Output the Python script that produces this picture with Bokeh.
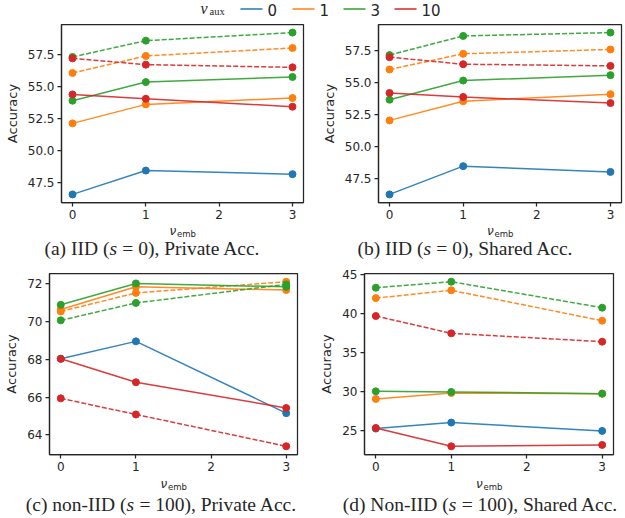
from bokeh.plotting import figure
from bokeh.layouts import column, row
from bokeh.models import FixedTicker, Label, Range1d, NumeralTickFormatter
from bokeh.embed import file_html
from bokeh.resources import INLINE

# ---------------- data ----------------
nu_emb = [0, 1, 3]
x_ticks = [0, 1, 2, 3]
aux_levels = ["0", "1", "3", "10"]
aux_colors = {"0": "#1f77b4", "1": "#ff7f0e", "3": "#2ca02c", "10": "#d62728"}

# (a) IID, private accuracy
a_solid = {"0": [46.60, 48.46, 48.18], "1": [52.14, 53.62, 54.12],
           "3": [53.91, 55.36, 55.76], "10": [54.40, 54.06, 53.44]}
a_dashed = {"1": [56.07, 57.40, 58.02], "3": [57.32, 58.59, 59.22],
            "10": [57.21, 56.72, 56.51]}
# (b) IID, shared accuracy
b_solid = {"0": [46.27, 48.47, 48.02], "1": [52.03, 53.52, 54.07],
           "3": [53.64, 55.13, 55.55], "10": [54.16, 53.85, 53.38]}
b_dashed = {"1": [55.99, 57.21, 57.55], "3": [57.11, 58.60, 58.86],
            "10": [56.95, 56.40, 56.27]}
# (c) non-IID, private accuracy
c_solid = {"0": [68.02, 68.94, 65.15], "1": [70.62, 71.82, 71.65],
           "3": [70.87, 72.00, 71.82], "10": [68.02, 66.78, 65.42]}
c_dashed = {"1": [70.52, 71.50, 72.09], "3": [70.05, 70.97, 71.95],
            "10": [65.93, 65.08, 63.40]}
# (d) non-IID, shared accuracy
d_solid = {"0": [25.26, 26.03, 24.96], "1": [29.06, 29.83, 29.74],
           "3": [30.04, 29.96, 29.74], "10": [25.34, 22.99, 23.16]}
d_dashed = {"1": [42.00, 43.00, 39.10], "3": [43.33, 44.10, 40.77],
            "10": [39.70, 37.48, 36.41]}

yticks_a = [47.5, 50.0, 52.5, 55.0, 57.5]
yticks_b = [47.5, 50.0, 52.5, 55.0, 57.5]
yticks_c = [64, 66, 68, 70, 72]
yticks_d = [25, 30, 35, 40, 45]

cap_a = ("(a) IID (", "s", "= 0), Private Acc.")
cap_b = ("(b) IID (", "s", "= 0), Shared Acc.")
cap_c = ("(c) non-IID (", "s", "= 100), Private Acc.")
cap_d = ("(d) Non-IID (", "s", "= 100), Shared Acc.")

# ---------------- styling helpers ----------------
TXT = "#262626"
TIMES = {'(': 333, ')': 333, ' ': 250, 'a': 444, 'b': 500, 'c': 444, 'd': 500, 'e': 444,
         'h': 500, 'i': 278, 'n': 500, 'o': 500, 'r': 333, 's': 389, 't': 278, 'v': 500,
         'A': 722, 'D': 722, 'I': 333, 'N': 722, 'P': 556, 'S': 556, '-': 333, '=': 564,
         '0': 500, '1': 500, ',': 250, '.': 250}
CAP_SIZE = 19.5
LW, RW = 310, 314
TOTAL_W = LW + RW


def tw(s, size):
    return sum(TIMES.get(ch, 500) for ch in s) / 1000.0 * size


def lab(p, x, y, text, font, size, style="normal", align="left"):
    p.add_layout(Label(x=x, y=y, x_units="screen", y_units="screen", text=text,
                       text_font=font, text_font_size=f"{size}px", text_font_style=style,
                       text_color=TXT, text_align=align, text_baseline="middle"))


def blank(width, height):
    f = figure(width=width, height=height, x_range=Range1d(0, width),
               y_range=Range1d(0, height), x_axis_type=None, y_axis_type=None,
               output_backend="svg", toolbar_location=None, min_border=0,
               outline_line_color=None)
    f.xgrid.grid_line_color = None
    f.ygrid.grid_line_color = None
    return f


def make_panel(solid, dashed, yticks, yfmt, width, height, bl, br, bt, bb):
    vals = [v for d in (solid, dashed) for arr in d.values() for v in arr]
    lo, hi = min(vals), max(vals)
    pad = 0.05 * (hi - lo)
    p = figure(width=width, height=height, x_range=Range1d(-0.15, 3.15),
               y_range=Range1d(lo - pad, hi + pad), output_backend="svg",
               toolbar_location=None, min_border_left=bl, min_border_right=br,
               min_border_top=bt, min_border_bottom=bb)
    p.xgrid.grid_line_color = None
    p.ygrid.grid_line_color = None
    p.outline_line_color = TXT
    p.outline_line_width = 1.25
    p.outline_line_alpha = 1.0
    for ax in (p.xaxis[0], p.yaxis[0]):
        ax.axis_line_color = TXT
        ax.axis_line_width = 1.25
        ax.major_tick_line_color = TXT
        ax.major_tick_line_width = 1.25
        ax.major_tick_out = 4
        ax.major_tick_in = 0
        ax.minor_tick_line_color = None
        ax.major_label_text_font = "DejaVu Sans"
        ax.major_label_text_font_size = "12px"
        ax.major_label_text_color = TXT
        ax.major_label_standoff = 3
    p.xaxis.ticker = FixedTicker(ticks=x_ticks)
    p.yaxis.ticker = FixedTicker(ticks=yticks)
    p.yaxis.formatter = NumeralTickFormatter(format=yfmt)
    p.yaxis.axis_label = "Accuracy"
    p.yaxis.axis_label_text_font = "DejaVu Sans"
    p.yaxis.axis_label_text_font_size = "13px"
    p.yaxis.axis_label_text_font_style = "normal"
    p.yaxis.axis_label_text_color = TXT
    p.yaxis.axis_label_standoff = 5

    for lv in aux_levels:
        col = aux_colors[lv]
        if lv in solid:
            p.line(nu_emb, solid[lv], line_color=col, line_width=1.5, line_alpha=0.9)
            p.scatter(nu_emb, solid[lv], size=7, marker="circle", fill_color=col,
                      line_color=col)
        if lv in dashed:
            p.line(nu_emb, dashed[lv], line_color=col, line_width=1.5, line_alpha=0.9,
                   line_dash="5 2")
            p.scatter(nu_emb, dashed[lv], size=7, marker="circle", fill_color=col,
                      line_color=col)
    return p


def add_xlabel(t, cx, y):
    start = cx - 13
    lab(t, start, y, "ν", "DejaVu Sans", 12, "italic")
    lab(t, start + 7.5, y - 3, "emb", "DejaVu Sans", 8.5)


def add_caption(t, cap, cx, y):
    left, mid, right = cap
    wl = tw(left, CAP_SIZE)
    wm = 389 / 1000.0 * CAP_SIZE
    wsp = 0.27 * CAP_SIZE
    wr = tw(right, CAP_SIZE)
    total = wl + wm + wsp + wr
    x0 = cx - total / 2.0
    lab(t, x0, y, left, "Liberation Serif", CAP_SIZE)
    lab(t, x0 + wl, y, mid, "Liberation Serif", CAP_SIZE, "italic")
    lab(t, x0 + wl + wm + wsp, y, right, "Liberation Serif", CAP_SIZE)


# frame borders: (left, right, top, bottom)
A_B = (61, 7, 5, 20)
B_B = (68, 3, 5, 20)
C_B = (49, 13, 13, 20)
D_B = (54, 11, 13, 20)
TOP_H, BOT_H = 203, 214

pa = make_panel(a_solid, a_dashed, yticks_a, "0.0", LW, TOP_H, *A_B)
pb = make_panel(b_solid, b_dashed, yticks_b, "0.0", RW, TOP_H, *B_B)
pc = make_panel(c_solid, c_dashed, yticks_c, "0", LW, BOT_H, *C_B)
pd = make_panel(d_solid, d_dashed, yticks_d, "0", RW, BOT_H, *D_B)


def frame_cx(offset, width, b):
    return offset + b[0] + (width - b[0] - b[1]) / 2.0


# text strips under each row (x-axis labels and captions)
T1_H, T2_H = 38, 42
t1 = blank(TOTAL_W, T1_H)
add_xlabel(t1, frame_cx(0, LW, A_B), T1_H - 8)
add_xlabel(t1, frame_cx(LW, RW, B_B), T1_H - 8)
add_caption(t1, cap_a, 152, 12)
add_caption(t1, cap_b, 465, 12)

t2 = blank(TOTAL_W, T2_H)
add_xlabel(t2, frame_cx(0, LW, C_B), T2_H - 9)
add_xlabel(t2, frame_cx(LW, RW, D_B), T2_H - 9)
add_caption(t2, cap_c, 161, 12)
add_caption(t2, cap_d, 480, 12)

# ---------------- legend strip ----------------
LEG_H = 19
leg = blank(TOTAL_W, LEG_H)
handle_x0 = 240
handle_len = 22
label_gap = 5
item_step = [52, 51, 51]
hx = handle_x0
ly = LEG_H - 9.5
for i, lv in enumerate(aux_levels):
    leg.segment(x0=[hx], y0=[LEG_H - 8.5], x1=[hx + handle_len], y1=[LEG_H - 8.5],
                line_color=aux_colors[lv], line_width=1.5)
    lab(leg, hx + handle_len + label_gap, ly, lv, "DejaVu Sans", 15)
    if i < len(item_step):
        hx += item_step[i]
lab(leg, 200, LEG_H - 8, "ν", "Liberation Serif", 16, "italic")
lab(leg, 209, LEG_H - 11, "aux", "Liberation Serif", 10.5)

layout = column(leg, row(pa, pb, spacing=0), t1, row(pc, pd, spacing=0), t2, spacing=0)
open("out.html", "w").write(file_html(layout, INLINE))
